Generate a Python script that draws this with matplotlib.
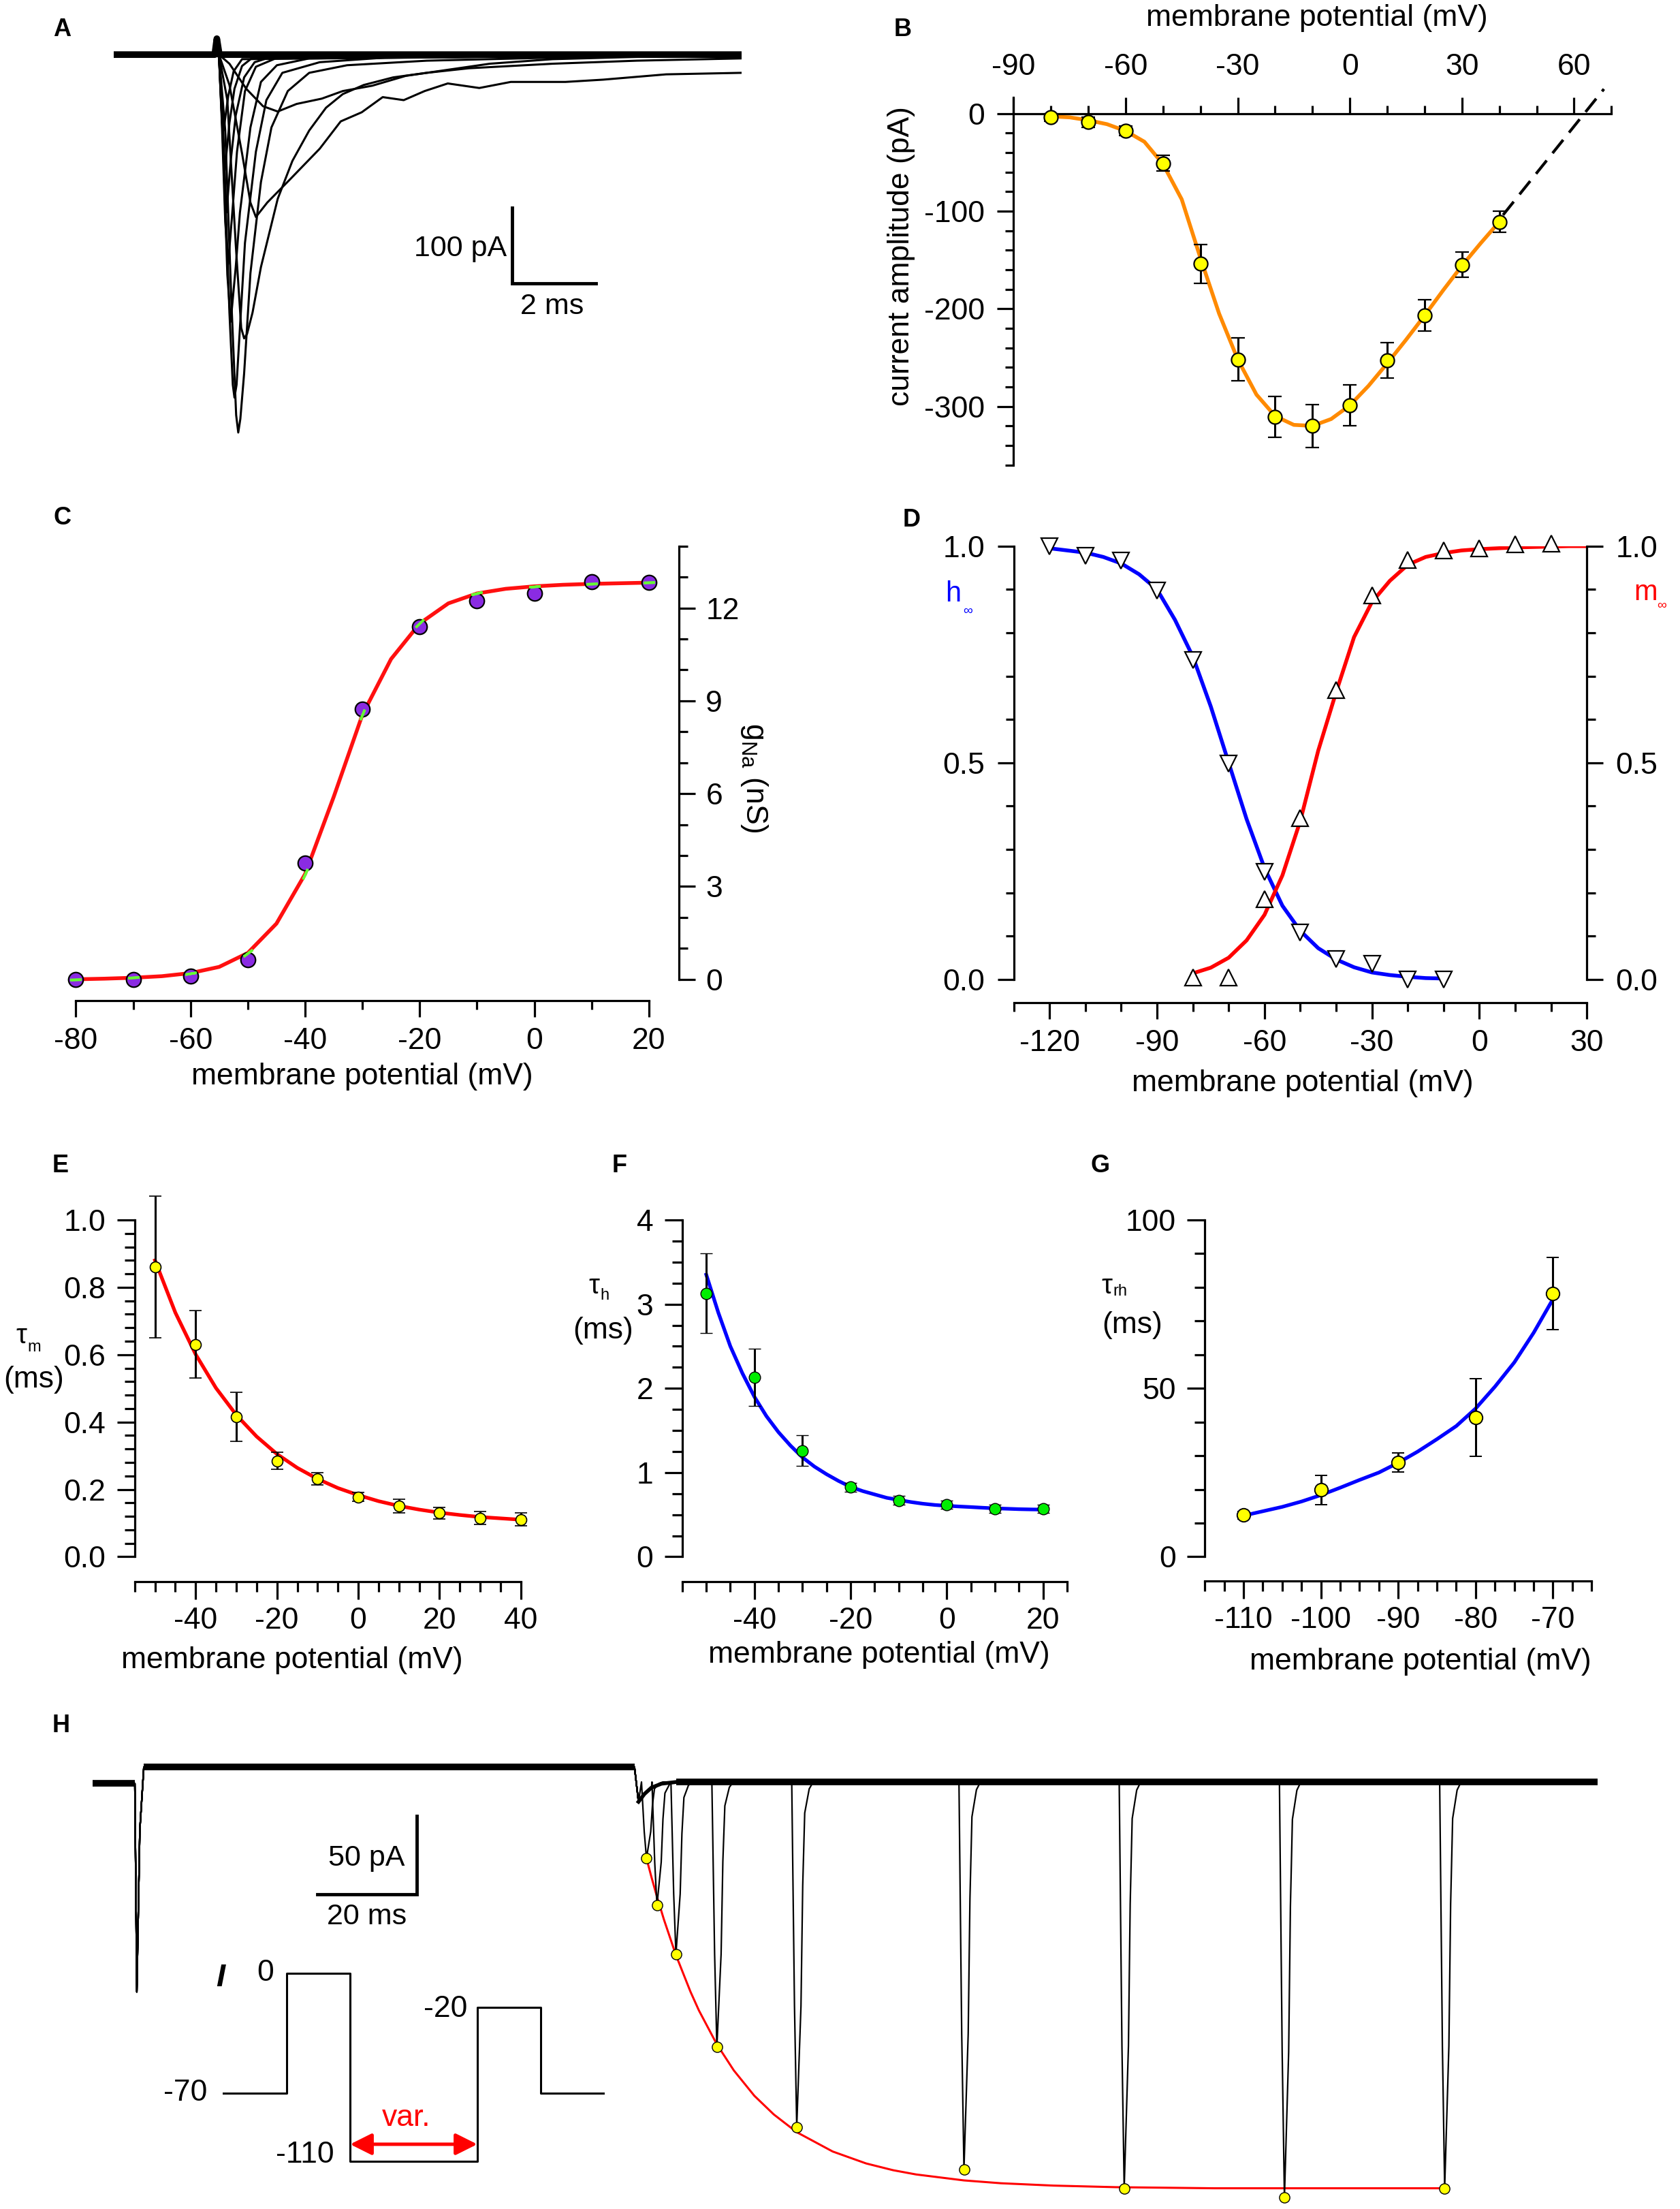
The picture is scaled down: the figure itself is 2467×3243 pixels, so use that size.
import matplotlib
matplotlib.use('Agg')

import numpy as np
import matplotlib.pyplot as plt
from matplotlib.ticker import MultipleLocator, FixedLocator, FormatStrFormatter

plt.rcParams['font.family'] = ['Liberation Sans', 'DejaVu Sans']
plt.rcParams['axes.unicode_minus'] = False
plt.rcParams['mathtext.default'] = 'regular'

# ---------------- data ----------------
# A: example Na+ current family (t in ms from step onset, I in pA)
a_base_t = [-2.45, -0.05, 0.0, 0.06, 12.5]
a_base_i = [0, 0, 21, 0, 0]
a_m50_t = [0.05, 0.3, 0.7, 1.1, 1.45, 1.9, 2.5, 3.0, 3.7, 4.5, 5.5, 6.5, 8.0, 10.0, 12.5]
a_m50_i = [0, -12, -45, -68, -75, -65, -58, -48, -41, -28, -20, -12, -6, -3, 0]
a_m40_t = [0.05, 0.3, 0.6, 0.8, 0.93, 1.2, 1.75, 2.45, 2.95, 3.45, 3.95, 4.45, 4.95, 5.5,
           6.25, 7.0, 8.3, 9.2, 10.7, 12.5]
a_m40_i = [0, -40, -130, -195, -214, -195, -164, -124, -88, -76, -56, -60, -48, -38,
           -44, -36, -36, -33, -26, -24]
a_m30_t = [0.05, 0.25, 0.45, 0.58, 0.65, 0.72, 0.85, 1.05, 1.45, 1.8, 2.2, 2.6, 3.0, 3.5,
           4.2, 5.0, 6.0, 8.0, 10.0, 12.5]
a_m30_i = [0, -60, -250, -360, -374, -368, -340, -280, -190, -140, -100, -70, -52, -40,
           -30, -24, -18, -12, -8, -5]
a_m20_t = [0.05, 0.2, 0.35, 0.46, 0.51, 0.56, 0.65, 0.8, 1.05, 1.3, 1.69, 2.2, 3.1, 5.0, 8.0, 12.5]
a_m20_i = [0, -100, -330, -475, -498, -480, -420, -288, -168, -96, -48, -24, -14, -8, -4, 0]
a_m10_t = [0.05, 0.15, 0.3, 0.38, 0.42, 0.47, 0.55, 0.67, 0.93, 1.18, 1.56, 2.45, 4.0, 12.5]
a_m10_i = [0, -100, -340, -435, -452, -435, -360, -248, -128, -60, -24, -10, -4, 0]
a_0_t = [0.05, 0.15, 0.25, 0.33, 0.45, 0.55, 0.8, 1.05, 1.43, 2.2, 12.5]
a_0_i = [0, -120, -290, -352, -280, -208, -96, -36, -14, -5, 0]
a_p10_t = [0.05, 0.12, 0.2, 0.27, 0.38, 0.48, 0.67, 0.93, 1.4, 12.5]
a_p10_i = [0, -90, -220, -276, -200, -128, -48, -16, -5, 0]
a_p20_t = [0.05, 0.12, 0.23, 0.33, 0.45, 0.65, 0.9, 1.3, 12.5]
a_p20_i = [0, -80, -208, -140, -80, -30, -10, -3, 0]
a_p30_t = [0.05, 0.1, 0.19, 0.3, 0.42, 0.6, 0.85, 12.5]
a_p30_i = [0, -60, -152, -90, -45, -15, -4, 0]
a_p40_t = [0.05, 0.1, 0.16, 0.27, 0.4, 0.6, 12.5]
a_p40_i = [0, -45, -100, -55, -22, -6, 0]

# B: I-V relation
b_v = [-80, -70, -60, -50, -40, -30, -20, -10, 0, 10, 20, 30, 40]
b_i = [-4, -9, -18, -51, -154, -252, -311, -320, -299, -253, -207, -155, -111]
b_err = [4, 5, 5, 8, 20, 22, 21, 22, 21, 18, 16, 13, 11]
bfit_v = [-80, -75, -70, -65, -60, -55, -50, -45, -40, -35, -30, -25, -20,
          -15, -10, -5, 0, 5, 10, 15, 20, 25, 30, 35, 40]
bfit_i = [-3, -4, -7, -11, -18, -29, -52, -88, -148, -205, -252, -288, -310,
          -319, -320, -313, -299, -279, -256, -232, -207, -181, -156, -133, -111]
b_ext_v = [41, 68]
b_ext_i = [-104, 25]

# C: conductance
c_v = [-80, -70, -60, -50, -40, -30, -20, -10, 0, 10, 20]
c_g = [0.0, 0.0, 0.1, 0.63, 3.76, 8.73, 11.39, 12.24, 12.47, 12.85, 12.82]
cfit_v = [-80, -75, -70, -65, -60, -55, -50, -45, -40, -35, -30, -25, -20,
          -15, -10, -5, 0, 5, 10, 15, 20]
cfit_g = [0.0, 0.02, 0.05, 0.1, 0.2, 0.4, 0.85, 1.8, 3.4, 5.9, 8.55, 10.35, 11.5,
          12.15, 12.47, 12.62, 12.7, 12.75, 12.78, 12.8, 12.82]

# D: steady-state activation / inactivation
dh_v = [-120, -110, -100, -90, -80, -70, -60, -50, -40, -30, -20, -10]
dh = [1.0, 0.977, 0.966, 0.898, 0.737, 0.498, 0.248, 0.108, 0.047, 0.036, 0.0, 0.0]
dm_v = [-80, -70, -60, -50, -40, -30, -20, -10, 0, 10, 20]
dm = [0.005, 0.005, 0.185, 0.373, 0.668, 0.887, 0.968, 0.99, 0.995, 1.004, 1.006]
dhfit_v = [-120, -115, -110, -105, -100, -95, -90, -85, -80, -75, -70, -65, -60,
           -55, -50, -45, -40, -35, -30, -25, -20, -15, -10]
dhfit = [0.995, 0.99, 0.985, 0.975, 0.96, 0.935, 0.9, 0.83, 0.745, 0.63, 0.5, 0.37, 0.257,
         0.17, 0.112, 0.072, 0.046, 0.028, 0.016, 0.01, 0.006, 0.003, 0.002]
dmfit_v = [-80, -75, -70, -65, -60, -55, -50, -45, -40, -35, -30, -25, -20,
           -15, -10, -5, 0, 5, 10, 15, 20, 25, 30]
dmfit = [0.014, 0.027, 0.05, 0.09, 0.149, 0.24, 0.366, 0.528, 0.663, 0.79, 0.871, 0.92, 0.957,
         0.975, 0.984, 0.99, 0.993, 0.995, 0.997, 0.998, 0.999, 1.0, 1.0]

# E: tau_m
e_v = [-50, -40, -30, -20, -10, 0, 10, 20, 30, 40]
e_tau = [0.86, 0.63, 0.416, 0.285, 0.231, 0.177, 0.15, 0.13, 0.115, 0.111]
e_err = [0.21, 0.10, 0.073, 0.025, 0.018, 0.013, 0.02, 0.017, 0.02, 0.02]
efit_v = [-50, -45, -40, -35, -30, -25, -20, -15, -10, -5, 0, 5, 10, 15, 20, 25, 30, 35, 40]
efit = [0.88, 0.725, 0.601, 0.501, 0.421, 0.357, 0.305, 0.264, 0.231, 0.204, 0.183,
        0.165, 0.151, 0.140, 0.131, 0.124, 0.118, 0.114, 0.110]

# F: tau_h
f_v = [-50, -40, -30, -20, -10, 0, 10, 20]
f_tau = [3.13, 2.13, 1.26, 0.825, 0.67, 0.62, 0.57, 0.57]
f_err = [0.47, 0.34, 0.18, 0.05, 0.05, 0.05, 0.05, 0.05]
ffit_v = [-50, -47.5, -45, -42.5, -40, -37.5, -35, -32.5, -30, -27.5, -25, -22.5, -20,
          -17.5, -15, -12.5, -10, -7.5, -5, -2.5, 0, 2.5, 5, 7.5, 10, 12.5, 15, 17.5, 20]
ffit = [3.35, 2.9, 2.5, 2.18, 1.9, 1.67, 1.48, 1.32, 1.18, 1.07, 0.98, 0.9, 0.83,
        0.78, 0.74, 0.7, 0.675, 0.65, 0.63, 0.615, 0.605, 0.597, 0.59, 0.582, 0.575,
        0.57, 0.565, 0.562, 0.56]

# G: tau recovery from inactivation
g_v = [-110, -100, -90, -80, -70]
g_tau = [12.4, 19.8, 28.0, 41.3, 78.1]
g_err = [1.1, 4.4, 2.8, 11.5, 10.7]
gfit_v = [-110, -107.5, -105, -102.5, -100, -97.5, -95, -92.5, -90, -87.5, -85,
          -82.5, -80, -77.5, -75, -72.5, -70]
gfit = [12.2, 13.5, 14.8, 16.4, 18.3, 20.5, 22.8, 25.0, 27.9, 31.2, 34.9,
        38.8, 44.0, 50.5, 57.7, 66.5, 76.5]

# H: recovery protocol traces (t in ms, I in pA)
h_cond_t = 8.9
h_cond_i = -143
h_step_end = 108.6
h_pre, h_cond, h_post = -10.4, 0.0, -9.4
h_dip_t = [109.4, 110.6, 112.0, 114.0, 117.0]
h_dip_i = [-22, -17, -13, -10.5, -9.4]
h_peak_t = [111.0, 113.1, 116.9, 125.1, 141.1, 174.6, 206.7, 238.8, 270.9]
h_peak_i = [-58, -88, -119, -178, -229, -256, -268, -274, -268]
h_fit_t = [111.0, 112.0, 113.1, 114.5, 116.9, 119.8, 121.5, 125.1, 128.5, 132.6, 136.5,
           141.1, 148.3, 155.0, 160.4, 165.0, 174.6, 182.0, 192.5, 205.0, 224.7, 256.8, 270.9]
h_fit_i = [-58, -70, -82.4, -97, -119.6, -142.8, -154.8, -176.4, -193, -209.1, -221,
           -232.3, -244.6, -252.2, -256.5, -259.2, -263, -264.8, -266.3, -267.3, -268, -268, -268]
spike_dt = [-1.0, -0.45, 0.0, 0.85, 1.2, 1.6, 2.5, 3.3]
spike_frac = [0.0, 0.65, 1.0, 0.65, 0.3, 0.09, 0.02, 0.0]
p_t = [0, 1, 1, 2, 2, 4, 4, 5, 5, 6]
p_v = [-70, -70, 0, 0, -110, -110, -20, -20, -70, -70]

# ---------------- layout helpers (reference pixel grid 1200 x 1577.5) ----------------
W, H = 1200.0, 1577.5
fig = plt.figure(figsize=(24.67, 32.43), dpi=100)


def rect(x0, y0, x1, y1):
    return [x0 / W, 1 - y1 / H, (x1 - x0) / W, (y1 - y0) / H]


def ftext(x, y, s, **kw):
    kw.setdefault('ha', 'center')
    kw.setdefault('va', 'center')
    kw.setdefault('fontsize', 32)
    fig.text(x / W, 1 - y / H, s, **kw)


LW = 2.3
FS = 32


def style_axes(ax, visible, major=17.5, minor=9):
    for name, sp in ax.spines.items():
        sp.set_visible(name in visible)
        sp.set_linewidth(LW)
    ax.set_facecolor('none')
    ax.tick_params(which='both', width=LW, direction='out', labelsize=FS)
    ax.tick_params(which='major', length=major)
    ax.tick_params(which='minor', length=minor)


def panel_label(x, y, s):
    ftext(x, y, s, fontsize=26, fontweight='bold')


def tau_label(xt, yt, sub, xs, ys, yms, xms):
    ftext(xt, yt, 'τ', fontsize=29)
    ftext(xs, ys, sub, fontsize=17, ha='left')
    ftext(xms, yms, '(ms)')


err_kw = dict(fmt='o', mec='black', ecolor='black', elinewidth=2.2,
              capthick=2.2, clip_on=False, zorder=3)

# ---------------- A ----------------
axA = fig.add_axes(rect(81.4, 25.45, 529.8, 320.8))
axA.set_xlim(-2.45, 12.5)
axA.set_ylim(-520, 25)
axA.axis('off')
axA.plot(a_base_t, a_base_i, color='black', lw=7, solid_joinstyle='round')
for tt, ii in [(a_m50_t, a_m50_i), (a_m40_t, a_m40_i), (a_m30_t, a_m30_i),
               (a_m20_t, a_m20_i), (a_m10_t, a_m10_i), (a_0_t, a_0_i),
               (a_p10_t, a_p10_i), (a_p20_t, a_p20_i), (a_p30_t, a_p30_i),
               (a_p40_t, a_p40_i)]:
    axA.plot(tt, ii, color='black', lw=2.2)
axA.plot([7.03, 7.03, 9.03], [-201.5, -301.5, -301.5], color='black', lw=3.5,
         solid_joinstyle='miter')
axA.text(6.9, -256, '100 pA', fontsize=31, ha='right', va='center')
axA.text(7.98, -332, '2 ms', fontsize=31, ha='center', va='center')

# ---------------- B ----------------
axB = fig.add_axes(rect(724, 69.5, 1151, 332))
axB.set_xlim(-90, 70)
axB.set_ylim(-360, 16.5)
style_axes(axB, ('left', 'top'))
axB.spines['top'].set_position(('data', 0))
axB.xaxis.set_ticks_position('top')
axB.xaxis.set_major_locator(MultipleLocator(30))
axB.xaxis.set_minor_locator(MultipleLocator(10))
axB.yaxis.set_major_locator(MultipleLocator(100))
axB.yaxis.set_minor_locator(MultipleLocator(20))
axB.tick_params(axis='x', which='major', pad=17)
axB.tick_params(axis='y', which='major', pad=13)
axB.plot(bfit_v, bfit_i, color='#ff8a00', lw=4, zorder=2)
axB.plot(b_ext_v, b_ext_i, color='black', lw=3, ls=(0, (6, 3.3)), clip_on=False)
axB.errorbar(b_v, b_i, yerr=b_err, ms=14.5, mfc='#ffff00', mew=1.6, capsize=7.5, **err_kw)
ftext(940.8, 13, 'membrane potential (mV)')
ftext(643.6, 183, 'current amplitude (pA)', rotation=90)

# ---------------- C ----------------
axC = fig.add_axes(rect(54.2, 390, 484.8, 714.8))
axC.set_xlim(-80, 25.2)
axC.set_ylim(-0.7, 14)
style_axes(axC, ('bottom', 'right'))
axC.spines['bottom'].set_bounds(-80, 20)
axC.spines['right'].set_bounds(0, 14)
axC.yaxis.tick_right()
axC.xaxis.set_major_locator(MultipleLocator(20))
axC.xaxis.set_minor_locator(MultipleLocator(10))
axC.yaxis.set_major_locator(MultipleLocator(3))
axC.yaxis.set_minor_locator(MultipleLocator(1))
axC.tick_params(axis='x', which='major', pad=10)
axC.tick_params(axis='y', which='major', pad=11)
axC.plot(cfit_v, cfit_g, color='#ff1010', lw=4, zorder=2)
axC.plot(c_v, c_g, 'o', ms=15.5, mfc='#8a2be2', mec='black', mew=1.6,
         clip_on=False, zorder=3)
# light green fit segment visible across each symbol
pts = axC.transData.transform(np.column_stack([cfit_v, cfit_g]))
slope_ang = np.degrees(np.arctan2(np.gradient(pts[:, 1]), np.gradient(pts[:, 0])))
for v in c_v:
    ang = float(np.interp(v, cfit_v, slope_ang))
    gv = float(np.interp(v, cfit_v, cfit_g))
    axC.plot([v], [gv], marker=(2, 2, ang - 90), ms=12, mew=2.6, color='#66ff33',
             clip_on=False, zorder=4)
ftext(258.9, 769, 'membrane potential (mV)')
ftext(538.7, 555.6, 'g$_{Na}$ (nS)', rotation=270)

# ---------------- D ----------------
axD = fig.add_axes(rect(724.1, 390, 1133.5, 716.2))
axD.set_xlim(-130, 30)
axD.set_ylim(-0.0543, 1.0)
style_axes(axD, ('bottom', 'left', 'right'))
axD.spines['left'].set_bounds(0, 1)
axD.spines['right'].set_bounds(0, 1)
axD.tick_params(axis='y', which='both', left=True, right=True, labelleft=True, labelright=True)
axD.xaxis.set_major_locator(MultipleLocator(30))
axD.xaxis.set_minor_locator(MultipleLocator(10))
axD.yaxis.set_major_locator(MultipleLocator(0.5))
axD.yaxis.set_minor_locator(MultipleLocator(0.1))
axD.yaxis.set_major_formatter(FormatStrFormatter('%.1f'))
axD.tick_params(axis='x', which='major', pad=10)
axD.tick_params(axis='y', which='major', pad=13)
axD.plot(dhfit_v, dhfit, color='#0000ff', lw=4, zorder=2)
axD.plot(dmfit_v, dmfit, color='#ff0000', lw=4, zorder=2)
axD.plot(dh_v, dh, 'v', ms=17, mfc='white', mec='black', mew=1.6, clip_on=False, zorder=3)
axD.plot(dm_v, dm, '^', ms=17, mfc='white', mec='black', mew=1.6, clip_on=False, zorder=3)
ftext(930.5, 773.5, 'membrane potential (mV)')
ftext(681, 424.3, 'h', color='#0000ff', fontsize=30)
ftext(691.1, 436.3, '∞', color='#0000ff', fontsize=14)
ftext(1175.4, 423, 'm', color='#ff0000', fontsize=30)
ftext(1187, 432.7, '∞', color='#ff0000', fontsize=14)

# ---------------- E ----------------
axE = fig.add_axes(rect(96.2, 871.2, 372, 1129.5))
axE.set_xlim(-55, 40)
axE.set_ylim(-0.074, 1.0)
style_axes(axE, ('bottom', 'left'), major=19, minor=10.5)
axE.spines['left'].set_bounds(0, 1.0)
axE.xaxis.set_major_locator(MultipleLocator(20))
axE.xaxis.set_minor_locator(MultipleLocator(5))
axE.yaxis.set_major_locator(FixedLocator(np.linspace(0, 1.0, 6)))
axE.yaxis.set_minor_locator(FixedLocator(np.linspace(0, 1.0, 26)))
axE.yaxis.set_major_formatter(FormatStrFormatter('%.1f'))
axE.tick_params(axis='x', which='major', pad=7.5)
axE.tick_params(axis='y', which='major', pad=11.5)
axE.plot(efit_v, efit, color='#ff0000', lw=3.8, zorder=2)
axE.errorbar(e_v, e_tau, yerr=e_err, ms=11.5, mfc='#ffff00', mew=1.2, capsize=6.5, **err_kw)
ftext(208.6, 1185.5, 'membrane potential (mV)')
tau_label(15.3, 953.9, 'm', 19.8, 962.3, 985.2, 24.2)

# ---------------- F ----------------
axF = fig.add_axes(rect(487.3, 871.2, 762.2, 1129.5))
axF.set_xlim(-55, 25)
axF.set_ylim(-0.296, 4)
style_axes(axF, ('bottom', 'left'), major=19, minor=10.5)
axF.spines['left'].set_bounds(0, 4)
axF.xaxis.set_major_locator(MultipleLocator(20))
axF.xaxis.set_minor_locator(MultipleLocator(5))
axF.yaxis.set_major_locator(FixedLocator(np.arange(0, 5)))
axF.yaxis.set_minor_locator(FixedLocator(np.linspace(0, 4, 17)))
axF.tick_params(axis='x', which='major', pad=7.5)
axF.tick_params(axis='y', which='major', pad=11.5)
axF.plot(ffit_v, ffit, color='#0000ff', lw=3.8, zorder=2)
axF.errorbar(f_v, f_tau, yerr=f_err, ms=12, mfc='#00ee00', mew=1.0, capsize=6.5, **err_kw)
ftext(627.8, 1181.6, 'membrane potential (mV)')
tau_label(424.2, 918.3, 'h', 428.6, 925.1, 950.1, 430.6)

# ---------------- G ----------------
axG = fig.add_axes(rect(860.6, 871.2, 1136.9, 1129))
axG.set_xlim(-115, -65)
axG.set_ylim(-7.2, 100)
style_axes(axG, ('bottom', 'left'), major=19, minor=10.5)
axG.spines['left'].set_bounds(0, 100)
axG.xaxis.set_major_locator(MultipleLocator(10))
axG.xaxis.set_minor_locator(MultipleLocator(2.5))
axG.yaxis.set_major_locator(FixedLocator([0, 50, 100]))
axG.yaxis.set_minor_locator(FixedLocator(np.arange(0, 101, 10)))
axG.tick_params(axis='x', which='major', pad=7.5)
axG.tick_params(axis='y', which='major', pad=11.5)
axG.plot(gfit_v, gfit, color='#0000ff', lw=3.8, zorder=2)
axG.errorbar(g_v, g_tau, yerr=g_err, ms=14, mfc='#ffff00', mew=1.4, capsize=6.5, **err_kw)
ftext(1014.5, 1186.7, 'membrane potential (mV)')
tau_label(790.7, 918.3, 'rh', 795.2, 922.1, 946.3, 808.7)

# ---------------- H ----------------
axH = fig.add_axes(rect(66, 1240, 1141, 1575))
axH.set_xlim(0, 301.5)
axH.set_ylim(-278.97, 19.61)
axH.axis('off')
# noisy baseline band of the superimposed sweeps
axH.plot([0, h_cond_t - 0.4], [h_pre, h_pre], color='black', lw=7, solid_capstyle='butt')
axH.plot([h_cond_t + 1.4, h_step_end], [h_cond, h_cond], color='black', lw=7,
         solid_capstyle='butt')
axH.plot([h_dip_t[-1], 301.5], [h_post, h_post], color='black', lw=7, solid_capstyle='butt')
axH.plot(h_dip_t, h_dip_i, color='black', lw=4)
for tk, ik in zip(h_peak_t, h_peak_i):
    st = np.array(spike_dt) + tk
    si = h_post + (ik - h_post) * np.array(spike_frac)
    keep = [k for k, t in enumerate(h_dip_t) if t < st[0]]
    dt_pre = [h_dip_t[k] for k in keep]
    di_pre = [h_dip_i[k] for k in keep]
    tail_t = [301.5] if st[-1] < h_dip_t[-1] else [h_dip_t[-1], 301.5]
    tail_i = [h_post] * len(tail_t)
    tt = np.concatenate([[0, h_cond_t - 0.4, h_cond_t, h_cond_t + 0.6, h_cond_t + 1.4,
                          h_step_end], dt_pre, st, tail_t])
    ii = np.concatenate([[h_pre, h_pre, h_cond_i, -40, h_cond, h_cond], di_pre, si, tail_i])
    axH.plot(tt, ii, color='black', lw=1.6, zorder=3)
axH.plot(h_fit_t, h_fit_i, color='#ff0000', lw=2.2, zorder=2)
axH.plot(h_peak_t, h_peak_i, 'o', ms=11, mfc='#ffff00', mec='black', mew=1.0,
         zorder=4, clip_on=False)
axH.plot([45.0, 65.0, 65.0], [-81.1, -81.1, -31.1], color='black', lw=3.5,
         solid_joinstyle='miter')
axH.text(54.9, -57.9, '50 pA', fontsize=31, ha='center', va='center')
axH.text(54.9, -95.4, '20 ms', fontsize=31, ha='center', va='center')

axP = fig.add_axes(rect(159.3, 1390, 431.7, 1560))
axP.set_xlim(0, 6)
axP.set_ylim(-123.5, 15.5)
axP.axis('off')
axP.plot(p_t, p_v, color='black', lw=2.2)
axP.annotate('', xy=(4, -100), xytext=(2, -100),
             arrowprops=dict(arrowstyle='<|-|>', color='#ff0000', lw=3.6,
                             mutation_scale=48, shrinkA=0, shrinkB=0))
axP.text(2.88, -84.8, 'var.', color='#ff0000', fontsize=32, ha='center', va='center')
axP.text(-0.25, -70, '-70', fontsize=32, ha='right', va='center')
axP.text(0.67, 0, '0', fontsize=32, ha='center', va='center')
axP.text(1.75, -106, '-110', fontsize=32, ha='right', va='center')
axP.text(3.85, -21, '-20', fontsize=32, ha='right', va='center')
axP.text(-0.04, -3, 'I', fontsize=34, fontstyle='italic', fontweight='bold',
         ha='center', va='center')

# panel letters
panel_label(44.5, 21, 'A')
panel_label(644.8, 21, 'B')
panel_label(44.4, 369.8, 'C')
panel_label(651, 371.2, 'D')
panel_label(43.3, 832.5, 'E')
panel_label(442.6, 832.5, 'F')
panel_label(785.6, 832.5, 'G')
panel_label(43.6, 1232.2, 'H')

fig.savefig('out.png', dpi=100, facecolor='white')
